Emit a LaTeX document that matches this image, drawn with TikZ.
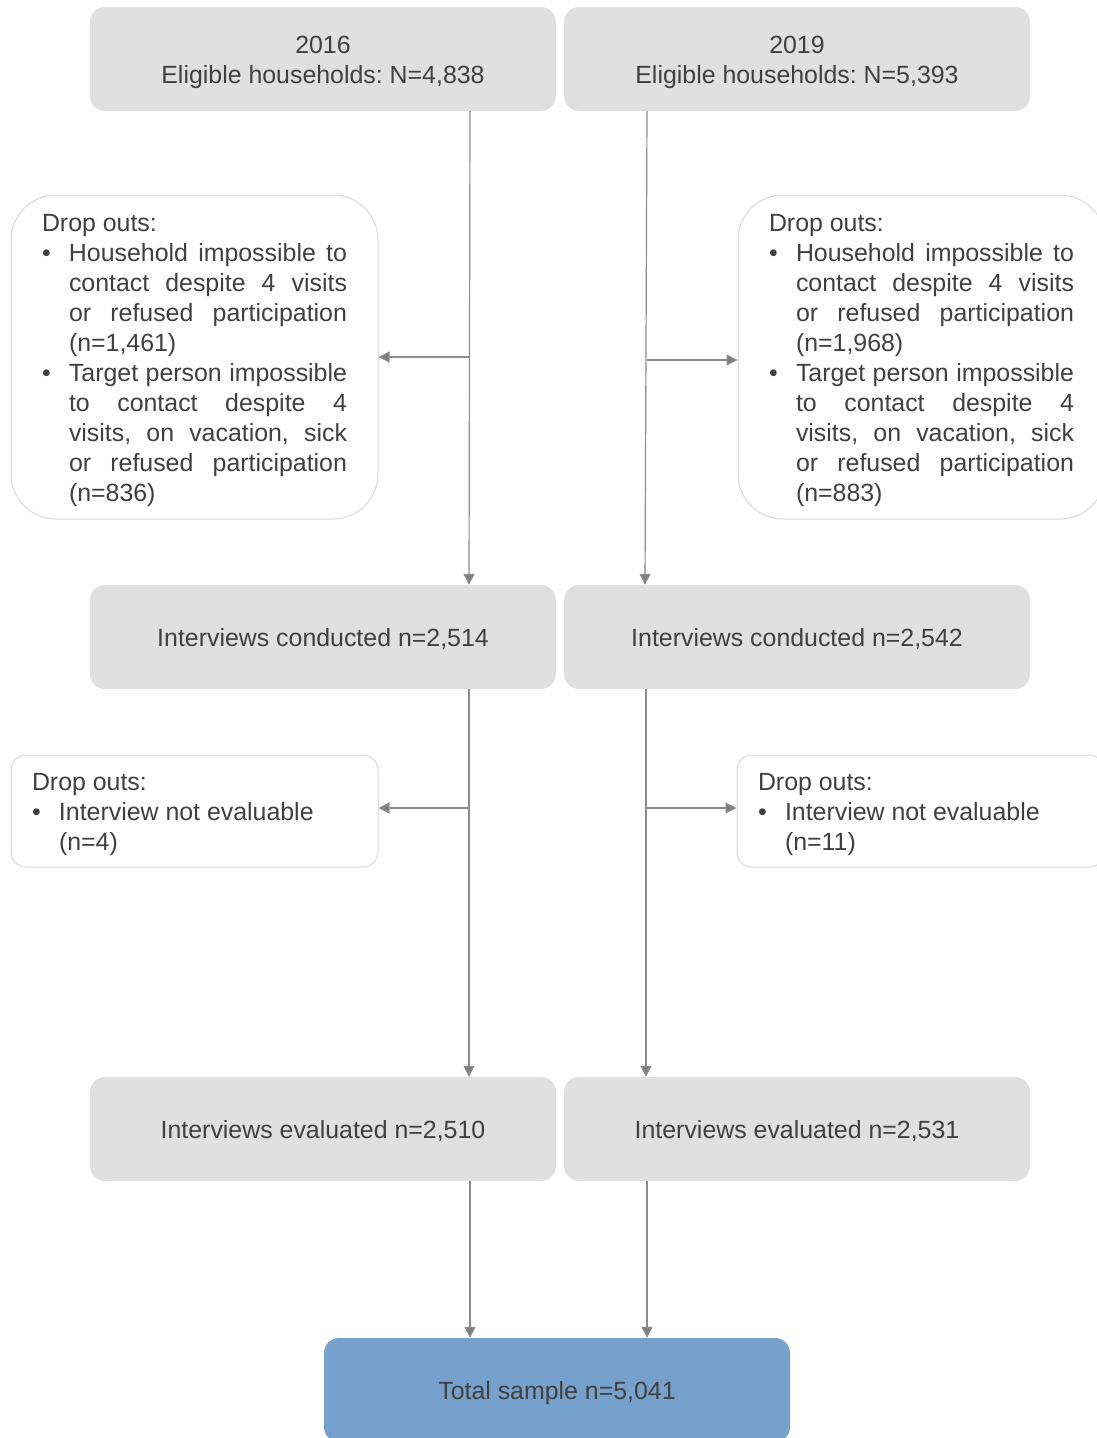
\documentclass[tikz,border=0pt]{standalone}
\usepackage{fontspec}
\setmainfont{Liberation Sans}
\usetikzlibrary{arrows.meta,calc}
\definecolor{boxgray}{HTML}{E0E0E0}
\definecolor{txt}{HTML}{404040}
\definecolor{linegray}{HTML}{8C8C8C}
\definecolor{outl}{HTML}{D9D9D9}
\definecolor{totblue}{HTML}{76A1CC}
\frenchspacing
\newcommand{\jl}[1]{\makebox[278pt][s]{#1}}
\newcommand{\bl}{\makebox[27pt][l]{•}}
\newcommand{\ind}{\hspace*{27pt}}
\newcommand{\dn}[1]{\raisebox{-3.5pt}[\height][\depth]{\begin{tabular}{@{}c@{}}#1\end{tabular}}}
\newcommand{\dpar}[2]{\raisebox{-4pt}[\height][\depth]{\parbox{#1}{#2}}}
\begin{document}
\begin{tikzpicture}[x=1pt,y=-1pt,
 every node/.style={font=\fontsize{24.9}{30}\selectfont, text=txt},
 graybox/.style={fill=boxgray, rounded corners=15pt, minimum width=466pt, minimum height=104pt, inner sep=0pt},
 dropbig/.style={draw=outl, line width=1pt, fill=white, rounded corners=45pt, minimum width=367pt, minimum height=324pt, inner sep=0pt},
 dropsmall/.style={draw=outl, line width=1pt, fill=white, rounded corners=15pt, minimum width=367pt, minimum height=112pt, inner sep=0pt},
 arr/.style={draw=linegray, line width=1.2pt, -{Triangle[length=11pt,width=11pt,fill=linegray!90!black]}}
]
\useasboundingbox (0,0) rectangle (1097,1438);

\node[graybox] (t16) at (323,59) {\dn{2016\\Eligible households: N=4,838}};
\node[graybox] (t19) at (797,59) {\dn{2019\\Eligible households: N=5,393}};

\node[dropbig] (d16a) at (194.5,357) {\dpar{305pt}{Drop outs:\\
\bl\jl{Household impossible to}\\
\ind\jl{contact despite 4 visits}\\
\ind\jl{or refused participation}\\
\ind(n=1,461)\\
\bl\jl{Target person impossible}\\
\ind\jl{to contact despite 4}\\
\ind\jl{visits, on vacation, sick}\\
\ind\jl{or refused participation}\\
\ind(n=836)}};

\node[dropbig] (d19a) at (921.5,357) {\dpar{305pt}{Drop outs:\\
\bl\jl{Household impossible to}\\
\ind\jl{contact despite 4 visits}\\
\ind\jl{or refused participation}\\
\ind(n=1,968)\\
\bl\jl{Target person impossible}\\
\ind\jl{to contact despite 4}\\
\ind\jl{visits, on vacation, sick}\\
\ind\jl{or refused participation}\\
\ind(n=883)}};

\node[graybox] (c16) at (323,637) {\dn{Interviews conducted n=2,514}};
\node[graybox] (c19) at (797,637) {\dn{Interviews conducted n=2,542}};

\node[dropsmall] (d16b) at (194.5,811) {\dpar{325pt}{Drop outs:\\
\bl Interview not evaluable\\
\ind(n=4)}};
\node[dropsmall] (d19b) at (920.5,811) {\dpar{325pt}{Drop outs:\\
\bl Interview not evaluable\\
\ind(n=11)}};

\node[graybox] (e16) at (323,1129) {\dn{Interviews evaluated n=2,510}};
\node[graybox] (e19) at (797,1129) {\dn{Interviews evaluated n=2,531}};

\node[graybox, fill=totblue] (tot) at (557,1390) {\dn{Total sample n=5,041}};

% stage 1
\path ([xshift=147pt]t16.south) coordinate (v1);
\path ([xshift=-150pt]t19.south) coordinate (v2);
\draw[arr] (v1) -- ([xshift=146pt]c16.north);
\draw[arr] (v2) -- ([xshift=-152pt]c19.north);
\draw[arr] (v1 |- d16a.east) -- (d16a.east);
\draw[arr] ([yshift=-3pt]v2 |- d19a.west) -- ([yshift=-3pt]d19a.west);

% stage 2
\path ([xshift=146pt]c16.south) coordinate (v3);
\path ([xshift=-151pt]c19.south) coordinate (v4);
\draw[arr] (v3) -- ([xshift=146pt]e16.north);
\draw[arr] (v4) -- ([xshift=-151pt]e19.north);
\draw[arr] ([yshift=3pt]v3 |- d16b.east) -- ([yshift=3pt]d16b.east);
\draw[arr] ([yshift=3pt]v4 |- d19b.west) -- ([yshift=3pt]d19b.west);

% stage 3
\draw[arr] ([xshift=147pt]e16.south) -- (tot.north -| v1);
\draw[arr] ([xshift=-150pt]e19.south) -- (tot.north -| v2);
\end{tikzpicture}
\end{document}
